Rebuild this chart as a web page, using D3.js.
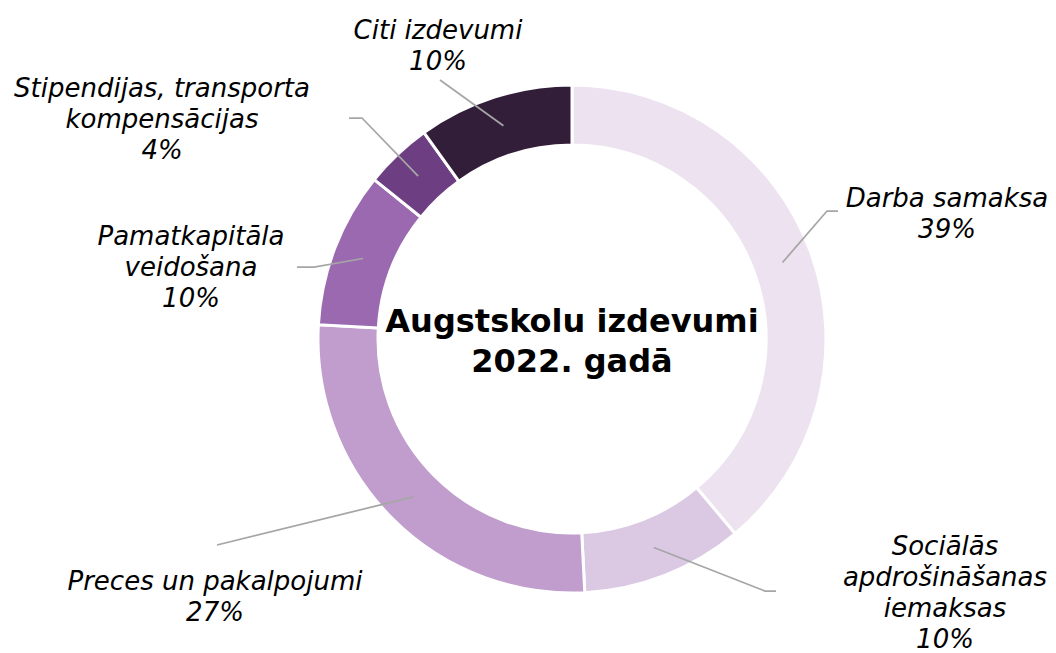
<!DOCTYPE html>
<html>
<head>
<meta charset="utf-8">
<script src="https://cdn.jsdelivr.net/npm/d3@7"></script>
<style>
  body { margin: 0; background: #fff; }
  text { font-family: "DejaVu Sans", Verdana, sans-serif; }
</style>
</head>
<body>
<div id="chart"></div>
<script>
// data (shares of total, %)
var categories = ["Darba samaksa", "Sociālās apdrošināšanas iemaksas", "Preces un pakalpojumi",
                  "Pamatkapitāla veidošana", "Stipendijas, transporta kompensācijas", "Citi izdevumi"];
var values = [38.9, 10.3, 26.7, 9.9, 4.3, 9.9];
var labelLines = [
  ["Darba samaksa"],
  ["Sociālās", "apdrošināšanas", "iemaksas"],
  ["Preces un pakalpojumi"],
  ["Pamatkapitāla", "veidošana"],
  ["Stipendijas, transporta", "kompensācijas"],
  ["Citi izdevumi"]
];
var colors = ["#ede3f0", "#dbc8e3", "#c09dcd", "#9b69b0", "#6d3f82", "#321e39"];
var title = ["Augstskolu izdevumi", "2022. gadā"];

// label placement (layout only): text centre x, first baseline y, elbow + end of leader line
var labelLayout = [
  { x: 947, y: 207, elbow: [827, 211], end: [838, 211] },
  { x: 945, y: 555, elbow: [765, 591], end: [776, 591] },
  { x: 215, y: 590, elbow: [217, 545], end: [217, 545] },
  { x: 191, y: 245, elbow: [314, 267], end: [297, 267] },
  { x: 162, y: 97,  elbow: [362, 118], end: [349, 118] },
  { x: 438, y: 39,  elbow: [440, 80],  end: [440, 80] }
];

var width = 1056, height = 653;
var cx = 572, cy = 339;
var outerR = 254, innerR = 194;
var lineH = 31;

var svg = d3.select("#chart").append("svg")
    .attr("width", width)
    .attr("height", height);

var pie = d3.pie().sort(null).value(function(d){ return d; });
var arcs = pie(values);

var arc = d3.arc().innerRadius(innerR).outerRadius(outerR);
var midArc = d3.arc().innerRadius((innerR + outerR) / 2).outerRadius((innerR + outerR) / 2);

var g = svg.append("g").attr("transform", "translate(" + cx + "," + cy + ")");

g.selectAll("path.slice")
    .data(arcs)
  .enter().append("path")
    .attr("class", "slice")
    .attr("d", arc)
    .style("fill", function(d, i){ return colors[i]; })
    .style("stroke", "#fff")
    .style("stroke-width", 3);

// leader lines
svg.selectAll("polyline.leader")
    .data(arcs)
  .enter().append("polyline")
    .attr("class", "leader")
    .attr("points", function(d, i) {
      var c = midArc.centroid(d);
      var L = labelLayout[i];
      return [[c[0] + cx, c[1] + cy], L.elbow, L.end].map(function(p){ return p.join(","); }).join(" ");
    })
    .style("fill", "none")
    .style("stroke", "#a6a6a6")
    .style("stroke-width", 1.75);

// labels
var labels = svg.selectAll("text.label")
    .data(arcs)
  .enter().append("text")
    .attr("class", "label")
    .attr("text-anchor", "middle")
    .style("font-size", "26px")
    .style("font-style", "italic")
    .style("fill", "#000");

labels.each(function(d, i) {
  var t = d3.select(this);
  var L = labelLayout[i];
  var lines = labelLines[i].concat([Math.round(d.value) + "%"]);
  lines.forEach(function(s, k) {
    t.append("tspan")
      .attr("x", L.x)
      .attr("y", L.y + k * lineH)
      .text(s);
  });
});

// centre title
var tt = svg.append("text")
    .attr("text-anchor", "middle")
    .style("font-size", "32px")
    .style("font-weight", "bold")
    .style("fill", "#000");
title.forEach(function(s, k) {
  tt.append("tspan").attr("x", cx).attr("y", 332 + k * 40).text(s);
});
</script>
</body>
</html>
